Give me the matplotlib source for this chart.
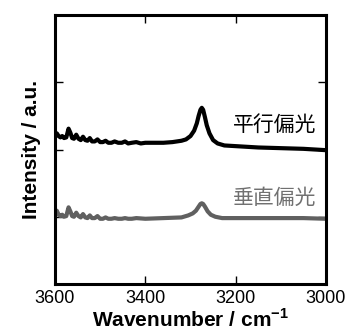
import matplotlib
matplotlib.use('Agg')
import matplotlib.pyplot as plt
import numpy as np

# wavenumber (cm-1) and intensity
wn_par = [3600, 3596, 3592, 3588, 3584, 3580, 3575, 3570, 3566, 3562, 3558, 3553,
          3548, 3543, 3538, 3533, 3528, 3523, 3518, 3512, 3506, 3500, 3494, 3488,
          3482, 3475, 3468, 3460, 3452, 3445, 3438, 3430, 3420, 3410, 3400, 3380,
          3360, 3340, 3320, 3310, 3300, 3292, 3286, 3282, 3278, 3275, 3272, 3268,
          3264, 3258, 3250, 3240, 3225, 3200, 3150, 3100, 3050, 3000]
int_par = [2.19, 2.24, 2.20, 2.18, 2.20, 2.17, 2.18, 2.31, 2.25, 2.17, 2.16, 2.22,
           2.16, 2.14, 2.19, 2.14, 2.13, 2.17, 2.12, 2.12, 2.15, 2.11, 2.11, 2.13,
           2.10, 2.10, 2.12, 2.10, 2.10, 2.12, 2.09, 2.10, 2.11, 2.09, 2.10, 2.10,
           2.10, 2.11, 2.13, 2.15, 2.20, 2.28, 2.39, 2.50, 2.59, 2.62, 2.59, 2.48,
           2.36, 2.24, 2.14, 2.09, 2.06, 2.05, 2.03, 2.02, 2.01, 1.99]

wn_perp = [3600, 3596, 3592, 3588, 3584, 3580, 3575, 3570, 3566, 3562, 3558, 3553,
           3548, 3543, 3538, 3533, 3528, 3523, 3518, 3512, 3506, 3500, 3494, 3488,
           3482, 3475, 3468, 3460, 3452, 3445, 3438, 3430, 3420, 3400, 3360, 3320,
           3305, 3295, 3288, 3282, 3278, 3275, 3272, 3268, 3262, 3255, 3245, 3230,
           3200, 3150, 3100, 3050, 3000]
int_perp = [1.02, 1.09, 1.03, 1.01, 1.03, 1.00, 1.01, 1.14, 1.08, 1.01, 1.00, 1.06,
            1.01, 0.99, 1.04, 0.99, 0.98, 1.02, 0.98, 0.98, 1.01, 0.97, 0.97, 0.99,
            0.97, 0.97, 0.98, 0.97, 0.97, 0.98, 0.97, 0.97, 0.98, 0.97, 0.98, 0.99,
            1.02, 1.05, 1.09, 1.15, 1.19, 1.20, 1.19, 1.15, 1.08, 1.03, 1.00, 0.98,
            0.98, 0.98, 0.98, 0.98, 0.97]

lbl_par = '平行偏光'
lbl_perp = '垂直偏光'

plt.rcParams['font.family'] = ['Liberation Sans', 'Noto Sans CJK JP', 'DejaVu Sans']

fig = plt.figure(figsize=(3.45, 3.34), dpi=100)
ax = fig.add_axes([55/345, 1-284/334, 271/345, 269/334])

ax.plot(wn_par, int_par, color='black', lw=3.0, solid_joinstyle='round')
ax.plot(wn_perp, int_perp, color='#606060', lw=3.0, solid_joinstyle='round')

ax.text(3022, 2.36, lbl_par, fontsize=15, color='black', ha='right', va='center',
        family=['Noto Sans CJK JP'])
ax.text(3022, 1.28, lbl_perp, fontsize=15, color='#707070', ha='right', va='center',
        family=['Noto Sans CJK JP'])

ax.set_xlim(3600, 3000)
ax.set_ylim(0, 4)
ax.set_xticks([3600, 3400, 3200, 3000])
ax.set_yticks([1, 2, 3])
ax.set_yticklabels([])
ax.tick_params(direction='in', top=True, right=True, length=6, width=1,
               labelsize=13, pad=4)
for s in ax.spines.values():
    s.set_linewidth(2.2)

ax.set_xlabel('Wavenumber / cm$^{\\mathregular{-1}}$', fontsize=15, fontweight='bold',
              labelpad=1)
ax.set_ylabel('Intensity / a.u.', fontsize=15, fontweight='bold', labelpad=6)

fig.savefig('out.png', dpi=100)
